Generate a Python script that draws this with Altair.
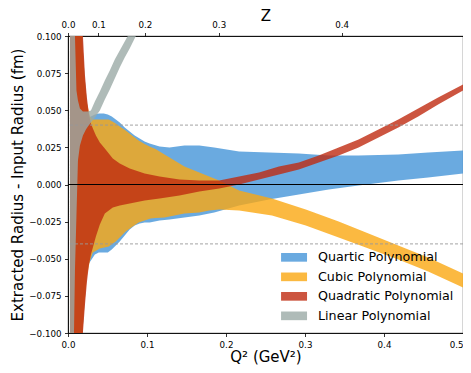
import altair as alt
import pandas as pd

# ---------------- data ----------------
FIT_NAMES = ["Quartic Polynomial", "Cubic Polynomial", "Quadratic Polynomial", "Linear Polynomial"]
FIT_COLORS = ["#4595d8", "#faa812", "#bf2a10", "#9baaa6"]

# Linear polynomial band
lin_q2 = [0.0025, 0.0050, 0.0076, 0.0088, 0.0107, 0.0126, 0.0151, 0.0189, 0.0227, 0.0252, 0.0290,
          0.0340, 0.0403, 0.0466, 0.0529, 0.0592, 0.0655, 0.0718, 0.0781, 0.0856, 0.0932]
lin_hi = [0.6, 0.35, 0.16, 0.100, 0.0633, 0.0566, 0.0512, 0.0492, 0.0492, 0.0492, 0.0498,
          0.0559, 0.0626, 0.0700, 0.0768, 0.0842, 0.0902, 0.0963, 0.1024, 0.1091, 0.1158]
lin_lo = [-0.6, -0.35, -0.0997, -0.0579, -0.0209, 0.0162, 0.0263, 0.0330, 0.0370, 0.0391, 0.0418,
          0.0451, 0.0498, 0.0572, 0.0640, 0.0714, 0.0788, 0.0855, 0.0916, 0.0997, 0.1064]

# Quadratic polynomial band
quad_q2 = [0.0025, 0.0126, 0.0164, 0.0189, 0.0214, 0.0239, 0.0264, 0.0290, 0.0315, 0.0353, 0.0403,
           0.0466, 0.0567, 0.0655, 0.0781, 0.0970, 0.1159, 0.1411, 0.1662, 0.1914, 0.2166, 0.2418,
           0.2670, 0.2922, 0.3174, 0.3426, 0.3678, 0.3930, 0.4181, 0.4433, 0.4685, 0.5000]
quad_hi = [2.0, 0.3, 0.14, 0.100, 0.0741, 0.0586, 0.0478, 0.0411, 0.0377, 0.0330, 0.0283,
           0.0242, 0.0175, 0.0141, 0.0108, 0.0074, 0.0054, 0.0034, 0.0027, 0.0027, 0.0054, 0.0081,
           0.0121, 0.0148, 0.0195, 0.0249, 0.0303, 0.0370, 0.0438, 0.0512, 0.0586, 0.0673]
quad_lo = [-2.0, -0.4, -0.15, -0.0997, -0.0815, -0.0660, -0.0545, -0.0471, -0.0424, -0.0350, -0.0269,
           -0.0195, -0.0155, -0.0141, -0.0128, -0.0108, -0.0094, -0.0074, -0.0047, -0.0027, 0.0000, 0.0034,
           0.0067, 0.0101, 0.0148, 0.0195, 0.0249, 0.0316, 0.0384, 0.0458, 0.0539, 0.0633]

# Cubic polynomial band
cub_q2 = [0.0025, 0.0126, 0.0164, 0.0189, 0.0214, 0.0239, 0.0277, 0.0315, 0.0403, 0.0516, 0.0605,
          0.0655, 0.0730, 0.0819, 0.0894, 0.0970, 0.1045, 0.1108, 0.1222, 0.1348, 0.1474, 0.1662,
          0.1788, 0.1914, 0.2166, 0.2582, 0.3010, 0.3426, 0.3804, 0.4181, 0.4559, 0.5000]
cub_hi = [1.0, 0.2, 0.12, 0.09, 0.07, 0.055, 0.046, 0.0438, 0.0438, 0.0438, 0.0411,
          0.0391, 0.0364, 0.0327, 0.0296, 0.0273, 0.0253, 0.0239, 0.0202, 0.0162, 0.0121, 0.0081,
          0.0054, 0.0027, -0.0040, -0.0094, -0.0168, -0.0249, -0.0330, -0.0411, -0.0492, -0.0599]
cub_lo = [-1.0, -0.3, -0.13, -0.095, -0.077, -0.062, -0.0512, -0.0458, -0.0431, -0.0418, -0.0384,
          -0.0357, -0.0316, -0.0283, -0.0256, -0.0242, -0.0229, -0.0226, -0.0222, -0.0209, -0.0195, -0.0189,
          -0.0175, -0.0168, -0.0175, -0.0209, -0.0276, -0.0357, -0.0431, -0.0505, -0.0586, -0.0694]

# Quartic polynomial band
quar_q2 = [0.0025, 0.0126, 0.0164, 0.0189, 0.0214, 0.0239, 0.0264, 0.0290, 0.0340, 0.0390, 0.0453,
           0.0504, 0.0554, 0.0605, 0.0655, 0.0718, 0.0781, 0.0844, 0.0907, 0.0970, 0.1033, 0.1159,
           0.1285, 0.1474, 0.1662, 0.1851, 0.2166, 0.2544, 0.2922, 0.3300, 0.3678, 0.4181, 0.4559, 0.5000]
quar_hi = [1.0, 0.2, 0.12, 0.09, 0.07, 0.055, 0.0451, 0.0458, 0.0471, 0.0478, 0.0478,
           0.0471, 0.0458, 0.0438, 0.0418, 0.0384, 0.0357, 0.0330, 0.0310, 0.0290, 0.0276, 0.0256,
           0.0249, 0.0263, 0.0263, 0.0249, 0.0222, 0.0215, 0.0209, 0.0195, 0.0195, 0.0202, 0.0215, 0.0229]
quar_lo = [-1.0, -0.3, -0.13, -0.095, -0.077, -0.060, -0.0532, -0.0512, -0.0471, -0.0458, -0.0458,
           -0.0458, -0.0438, -0.0411, -0.0384, -0.0343, -0.0303, -0.0276, -0.0263, -0.0256, -0.0256, -0.0242,
           -0.0236, -0.0222, -0.0209, -0.0189, -0.0141, -0.0101, -0.0067, -0.0034, -0.0007, 0.0027, 0.0047, 0.0074]

x_ticks = [0.0, 0.1, 0.2, 0.3, 0.4, 0.5]
y_ticks = [-0.100, -0.075, -0.050, -0.025, 0.000, 0.025, 0.050, 0.075, 0.100]
z_ticks = [0.0, 0.1, 0.2, 0.3, 0.4]
ref_levels = [0.04, -0.04]
zero_level = [0.0]

T_CUT = 4 * 0.13957 ** 2  # 4 m_pi^2 (GeV^2)
# Q^2 positions of the Z ticks: Z = (sqrt(tc+Q2)-sqrt(tc))/(sqrt(tc+Q2)+sqrt(tc))
z_pos = [T_CUT * (((1 + z) / (1 - z)) ** 2 - 1) for z in z_ticks]

FONT = "DejaVu Sans"


def band(name, q2, hi, lo):
    return pd.DataFrame({"Q2": q2, "hi": hi, "lo": lo, "fit": name})


bands = [
    band(FIT_NAMES[0], quar_q2, quar_hi, quar_lo),
    band(FIT_NAMES[1], cub_q2, cub_hi, cub_lo),
    band(FIT_NAMES[2], quad_q2, quad_hi, quad_lo),
    band(FIT_NAMES[3], lin_q2, lin_hi, lin_lo),
]

x_scale = alt.Scale(domain=[0, 0.5], nice=False, zero=False)
y_scale = alt.Scale(domain=[-0.1, 0.1], nice=False, zero=False)
color_scale = alt.Scale(domain=FIT_NAMES, range=FIT_COLORS)

axis_style = dict(
    grid=False, domainColor="black", tickColor="black", labelColor="black", titleColor="black",
    labelFont=FONT, titleFont=FONT, titleFontWeight="normal", domainWidth=0.8, tickWidth=0.8,
    tickSize=3.5, labelPadding=3.5, labelFontSize=8.7, titleFontSize=15,
    labelFlush=False, labelOverlap=False,
)

bottom_axis = alt.Axis(
    orient="bottom", values=x_ticks, format=".1f", title="Q² (GeV²)",
    titleY=28, titleBaseline="alphabetic",
    labelAlign={"condition": {"test": "datum.value >= 0.5", "value": "right"}, "value": "center"},
    **axis_style)
top_axis = alt.Axis(
    orient="top", values=z_pos, title="Z", titleY=-16, titleBaseline="alphabetic",
    labelExpr=("format((sqrt(%f+datum.value)-sqrt(%f))/(sqrt(%f+datum.value)+sqrt(%f)), '.1f')"
               % (T_CUT, T_CUT, T_CUT, T_CUT)),
    **axis_style)
left_axis = alt.Axis(orient="left", values=y_ticks, format=".3f",
                     title="Extracted Radius - Input Radius (fm)", titlePadding=3, **axis_style)

legend = alt.Legend(
    title=None, orient="none", legendX=219.7, legendY=215, padding=0,
    symbolType="M-3,-1H3V1H-3Z", symbolSize=75, symbolOpacity=0.8, symbolStrokeWidth=0,
    labelFont=FONT, labelFontSize=12.7, labelColor="black", labelOffset=17.6, rowPadding=5.5,
)

layers = []
for i, df in enumerate(bands):
    x_axis = bottom_axis if i == 0 else (top_axis if i == 2 else None)
    y_axis = left_axis if i == 0 else None
    layers.append(
        alt.Chart(df).mark_area(opacity=0.8, clip=True, interpolate="linear").encode(
            x=alt.X("Q2:Q", scale=x_scale, axis=x_axis),
            y=alt.Y("hi:Q", scale=y_scale, axis=y_axis),
            y2="lo:Q",
            color=alt.Color("fit:N", scale=color_scale, legend=legend),
        )
    )

dashed = alt.Chart(pd.DataFrame({"y": ref_levels})).mark_rule(
    color="#999999", strokeDash=[3, 2], strokeWidth=0.9
).encode(y=alt.Y("y:Q", scale=y_scale, axis=None))

zero = alt.Chart(pd.DataFrame({"y": zero_level})).mark_rule(
    color="black", strokeWidth=1
).encode(y=alt.Y("y:Q", scale=y_scale, axis=None))

chart = alt.layer(*layers, dashed, zero).resolve_axis(
    x="independent", y="independent"
).properties(
    width=395, height=297,
    padding={"left": 60, "top": 28, "right": 0, "bottom": 32},
    autosize=alt.AutoSizeParams(type="none"),
).configure_view(stroke="black", strokeWidth=0.8)

chart.save("out.html", embed_options={"renderer": "svg", "actions": False})
